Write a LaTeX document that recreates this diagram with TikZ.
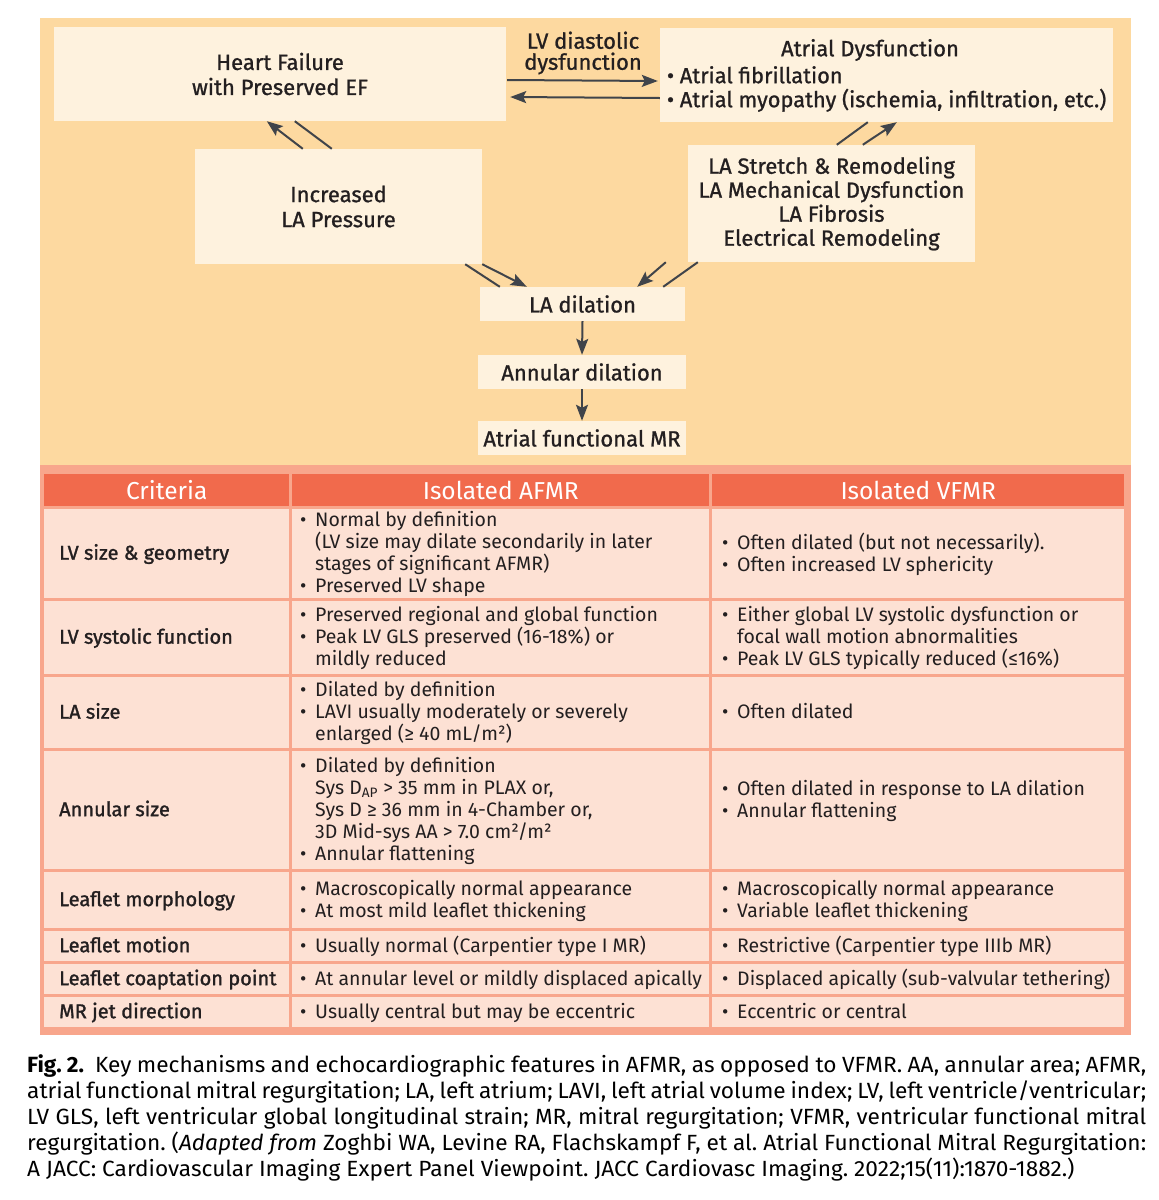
\documentclass[tikz,border=0pt]{standalone}
\usepackage{fontspec}
\setmainfont{Fira Sans}
\newfontfamily\medf[FakeBold=1]{Fira Sans}
\newfontfamily\semf[FakeBold=1.4]{Fira Sans}
\newfontfamily\capf[FakeStretch=1.03]{Fira Sans}
\usetikzlibrary{arrows.meta,calc}
\definecolor{panelbg}{RGB}{253,217,160}
\definecolor{boxfill}{RGB}{254,242,222}
\definecolor{arrc}{RGB}{64,68,74}
\definecolor{frame}{RGB}{248,166,140}
\definecolor{headc}{RGB}{241,106,76}
\definecolor{cellc}{RGB}{253,225,212}
\definecolor{txt}{RGB}{35,31,32}
\newcommand{\bu}{\makebox[15pt][l]{•}}
\newcommand{\ind}{\hspace*{15pt}}
\begin{document}
\begin{tikzpicture}[x=1pt,y=-1pt,
  box/.style={fill=boxfill, inner sep=0pt, text=txt, align=center, font=\medf\fontsize{22}{25}\selectfont},
  arr/.style={draw=arrc, line width=2pt, -{Stealth[length=16pt,width=12pt,inset=3pt]}},
  ln/.style={draw=arrc, line width=2pt},
  cell/.style={fill=cellc, inner sep=0pt, anchor=north west},
  hcell/.style={fill=headc, inner sep=0pt, anchor=north west, text=white, font=\fontsize{24.5}{26}\selectfont},
  tx/.style={anchor=west, align=left, inner sep=0pt, text=txt, font=\fontsize{19.5}{22}\selectfont, execute at begin node=\strut, execute at end node=\strut},
  lab/.style={anchor=west, align=left, inner sep=0pt, text=txt, font=\semf\fontsize{20}{22}\selectfont, execute at begin node=\strut, execute at end node=\strut},
  captxt/.style={anchor=north west, inner sep=0pt, text width=1119pt, align=justify, text=black, font=\capf\fontsize{22}{26}\selectfont}
]
\useasboundingbox (0,0) rectangle (1159,1200);
\fill[white] (0,0) rectangle (1159,1200);
% top panel
\fill[panelbg] (40,18) rectangle (1131,465);

\node[box, minimum width=452pt, minimum height=94pt] (hf) at (280,74) {Heart Failure\\with Preserved EF};
\node[box, minimum width=453pt, minimum height=94pt] (ad) at (886.5,75) {};
\node[inner sep=0pt, text=txt, font=\medf\fontsize{22}{25}\selectfont] (adt) at (870,50) {Atrial Dysfunction};
\node[anchor=west, align=left, inner sep=0pt, text=txt, font=\medf\fontsize{21.8}{24}\selectfont] (adb) at ([xshift=7pt,yshift=-14pt]ad.west) {• Atrial fibrillation\\• Atrial myopathy (ischemia, infiltration, etc.)};
\node[box, minimum width=287pt, minimum height=115pt] (lap) at (338.5,206.5) {Increased\\LA Pressure};
\node[box, minimum width=287pt, minimum height=117pt, font=\medf\fontsize{22}{24}\selectfont] (las) at (831.5,203.5) {LA Stretch \& Remodeling\\LA Mechanical Dysfunction\\LA Fibrosis\\Electrical Remodeling};
\node[box, minimum width=205pt, minimum height=34pt] (lad) at (582.5,304) {LA dilation};
\node[box, minimum width=208pt, minimum height=34pt] (ann) at (582,372) {Annular dilation};
\node[box, minimum width=208pt, minimum height=34pt] (afmr) at (582,438) {Atrial functional MR};
\node[inner sep=0pt, align=center, text=txt, font=\medf\fontsize{22}{21}\selectfont] (lvd) at (583,53) {LV diastolic\\dysfunction};

% horizontal arrows
\draw[arr] ([xshift=1pt,yshift=-6pt]hf.east) -- ([xshift=-2pt,yshift=-6pt]ad.west);
\draw[arr] ([yshift=-23pt]ad.west) -- ([xshift=4pt,yshift=-23pt]hf.east);
% diagonal arrows top-left
\draw[arr] ([xshift=108pt]lap.north west) -- ([xshift=213pt]hf.south west);
\draw[ln] ([xshift=241pt]hf.south west) -- ([xshift=137pt]lap.north west);
% top-right
\draw[ln] ([xshift=149pt]las.north west) -- ([xshift=208pt]ad.south west);
\draw[arr] ([xshift=175pt]las.north west) -- ([xshift=237pt]ad.south west);
% bottom-left
\draw[arr] (lap.south east) -- ([xshift=47pt]lad.north west);
\draw[ln] ([xshift=-17pt]lap.south east) -- ([xshift=20pt]lad.north west);
% bottom-right
\draw[arr] ([xshift=-22pt]las.south west) -- ([xshift=-48pt]lad.north east);
\draw[ln] ([xshift=10pt]las.south west) -- ([xshift=-22pt]lad.north east);
% vertical
\draw[arr] (lad.south) -- (ann.north);
\draw[arr] (ann.south) -- (afmr.north);

% table
\fill[frame] (40,465) rectangle (1131,1035);
\node[hcell, minimum width=245pt, minimum height=32pt] (ch-a) at (44,474) {Criteria};
\node[hcell, minimum width=417pt, minimum height=32pt] (ch-b) at (292,474) {Isolated AFMR};
\node[hcell, minimum width=412pt, minimum height=32pt] (ch-c) at (712,474) {Isolated VFMR};
\foreach \n/\y/\h in {1/509/89, 2/601/73, 3/677/71, 4/751/118, 5/872/56, 6/931/30, 7/964/30, 8/997/30} {
  \node[cell, minimum width=245pt, minimum height=\h pt] (c\n-a) at (44,\y) {};
  \node[cell, minimum width=417pt, minimum height=\h pt] (c\n-b) at (292,\y) {};
  \node[cell, minimum width=412pt, minimum height=\h pt] (c\n-c) at (712,\y) {};
}
% column 1 labels
\node[lab] (l1) at ([xshift=15pt,yshift=-1.5pt]c1-a.west) {LV size \& geometry};
\node[lab] (l2) at ([xshift=15pt,yshift=-1.5pt]c2-a.west) {LV systolic function};
\node[lab] (l3) at ([xshift=15pt,yshift=-1.5pt]c3-a.west) {LA size};
\node[lab] (l4) at ([xshift=15pt,yshift=-1.5pt]c4-a.west) {Annular size};
\node[lab] (l5) at ([xshift=15pt,yshift=-1.5pt]c5-a.west) {Leaflet morphology};
\node[lab] (l6) at ([xshift=15pt,yshift=-1.5pt]c6-a.west) {Leaflet motion};
\node[lab] (l7) at ([xshift=15pt,yshift=-1.5pt]c7-a.west) {Leaflet coaptation point};
\node[lab] (l8) at ([xshift=15pt,yshift=-1.5pt]c8-a.west) {MR jet direction};
% column 2
\node[tx] (t1b) at ([xshift=8pt,yshift=-1.5pt]c1-b.west) {\bu Normal by definition\\\ind(LV size may dilate secondarily in later\\\ind stages of significant AFMR)\\\bu Preserved LV shape};
\node[tx] (t2b) at ([xshift=8pt,yshift=-1.5pt]c2-b.west) {\bu Preserved regional and global function\\\bu Peak LV GLS preserved (16-18\%) or\\\ind mildly reduced};
\node[tx] (t3b) at ([xshift=8pt,yshift=-1.5pt]c3-b.west) {\bu Dilated by definition\\\bu LAVI usually moderately or severely\\\ind enlarged (≥ 40 mL/m²)};
\node[tx] (t4b) at ([xshift=8pt,yshift=-1.5pt]c4-b.west) {\bu Dilated by definition\\\ind Sys D\textsubscript{AP} > 35 mm in PLAX or,\\\ind Sys D ≥ 36 mm in 4-Chamber or,\\\ind 3D Mid-sys AA > 7.0 cm²/m²\\\bu Annular flattening};
\node[tx] (t5b) at ([xshift=8pt,yshift=-1.5pt]c5-b.west) {\bu Macroscopically normal appearance\\\bu At most mild leaflet thickening};
\node[tx] (t6b) at ([xshift=8pt,yshift=-1.5pt]c6-b.west) {\bu Usually normal (Carpentier type I MR)};
\node[tx] (t7b) at ([xshift=8pt,yshift=-1.5pt]c7-b.west) {\bu At annular level or mildly displaced apically};
\node[tx] (t8b) at ([xshift=8pt,yshift=-1.5pt]c8-b.west) {\bu Usually central but may be eccentric};
% column 3
\node[tx] (t1c) at ([xshift=10pt,yshift=-1.5pt]c1-c.west) {\bu Often dilated (but not necessarily).\\\bu Often increased LV sphericity};
\node[tx] (t2c) at ([xshift=10pt,yshift=-1.5pt]c2-c.west) {\bu Either global LV systolic dysfunction or\\\ind focal wall motion abnormalities\\\bu Peak LV GLS typically reduced (≤16\%)};
\node[tx] (t3c) at ([xshift=10pt,yshift=-1.5pt]c3-c.west) {\bu Often dilated};
\node[tx] (t4c) at ([xshift=10pt,yshift=8.5pt]c4-c.west) {\bu Often dilated in response to LA dilation\\\bu Annular flattening};
\node[tx] (t5c) at ([xshift=10pt,yshift=-1.5pt]c5-c.west) {\bu Macroscopically normal appearance\\\bu Variable leaflet thickening};
\node[tx] (t6c) at ([xshift=10pt,yshift=-1.5pt]c6-c.west) {\bu Restrictive (Carpentier type IIIb MR)};
\node[tx] (t7c) at ([xshift=10pt,yshift=-1.5pt]c7-c.west) {\bu Displaced apically (sub-valvular tethering)};
\node[tx] (t8c) at ([xshift=10pt,yshift=-1.5pt]c8-c.west) {\bu Eccentric or central};

% caption
\node[captxt] (cap) at (27,1054) {\frenchspacing\textbf{Fig. 2.}\ \ Key mechanisms and echocardiographic features in AFMR, as opposed to VFMR. AA, annular area; AFMR,\linebreak
atrial functional mitral regurgitation; LA, left atrium; LAVI, left atrial volume index; LV, left ventricle/ventricular;\linebreak
LV GLS, left ventricular global longitudinal strain; MR, mitral regurgitation; VFMR, ventricular functional mitral\linebreak
regurgitation. (\textit{Adapted from} Zoghbi WA, Levine RA, Flachskampf F, et al. Atrial Functional Mitral Regurgitation:\linebreak
A JACC: Cardiovascular Imaging Expert Panel Viewpoint. JACC Cardiovasc Imaging. 2022;15(11):1870-1882.)};
\end{tikzpicture}
\end{document}
